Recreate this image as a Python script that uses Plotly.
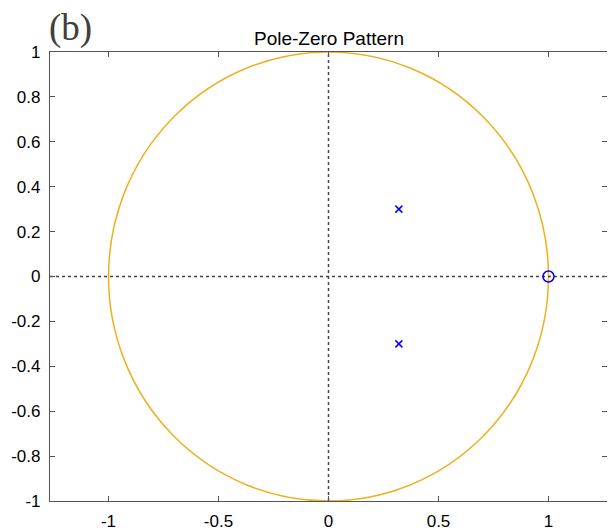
import plotly.graph_objects as go

pole_re = [0.32, 0.32]
pole_im = [0.30, -0.30]
zero_re = [1.0]
zero_im = [0.0]
x_ticks = [-1, -0.5, 0, 0.5, 1]
x_labels = ["-1", "-0.5", "0", "0.5", "1"]
y_ticks = [-1, -0.8, -0.6, -0.4, -0.2, 0, 0.2, 0.4, 0.6, 0.8, 1]
y_labels = ["-1", "-0.8", "-0.6", "-0.4", "-0.2", "0", "0.2", "0.4", "0.6", "0.8", "1"]
x_range = [-1.266, 1.266]
y_range = [-1, 1]

fig = go.Figure()
fig.add_trace(go.Scatter(x=pole_re, y=pole_im, mode="markers",
                         marker=dict(symbol="x-thin", size=7, line=dict(color="#0000ff", width=1.5)),
                         showlegend=False))
fig.add_trace(go.Scatter(x=zero_re, y=zero_im, mode="markers",
                         marker=dict(symbol="circle-open", size=11, color="#0000ff", line=dict(width=1.5)),
                         showlegend=False))

fig.add_shape(type="circle", xref="x", yref="y", x0=-1, y0=-1, x1=1, y1=1,
              line=dict(color="#EDB120", width=1.5), layer="below")
fig.add_shape(type="line", xref="x", yref="y", x0=x_range[0], x1=x_range[1], y0=0, y1=0,
              line=dict(color="#444444", width=1.5, dash="dot"), layer="below")
fig.add_shape(type="line", xref="x", yref="y", x0=0, x1=0, y0=y_range[0], y1=y_range[1],
              line=dict(color="#444444", width=1.5, dash="dot"), layer="below")

axis_common = dict(showgrid=False, zeroline=False, showline=True, linecolor="#555555", linewidth=1.2,
                   mirror="ticks", ticks="inside", ticklen=5, tickcolor="#555555", tickwidth=1,
                   automargin=False,
                   tickfont=dict(family="Liberation Sans, Arial", size=17, color="#000000"))

fig.update_xaxes(range=x_range, tickvals=x_ticks, ticktext=x_labels, ticklabelstandoff=4, **axis_common)
fig.update_yaxes(range=y_range, tickvals=y_ticks, ticktext=y_labels, ticklabelstandoff=5, **axis_common)

fig.add_annotation(text="Pole-Zero Pattern", xref="paper", yref="paper", x=0.5, y=1.0,
                   yanchor="bottom", xanchor="center", yshift=1, showarrow=False,
                   font=dict(family="Liberation Sans, Arial", size=19, color="#000000"))
fig.add_annotation(text="(b)", xref="paper", yref="paper", x=0.0, y=1.098,
                   xanchor="left", yanchor="top", xshift=-3, yshift=3, showarrow=False,
                   font=dict(family="Liberation Serif, Times New Roman, serif", size=37, color="#404040"))

fig.update_layout(width=607, height=524, margin=dict(l=42, r=8, t=44, b=31),
                  plot_bgcolor="white", paper_bgcolor="white")

fig.write_html("out.html")
